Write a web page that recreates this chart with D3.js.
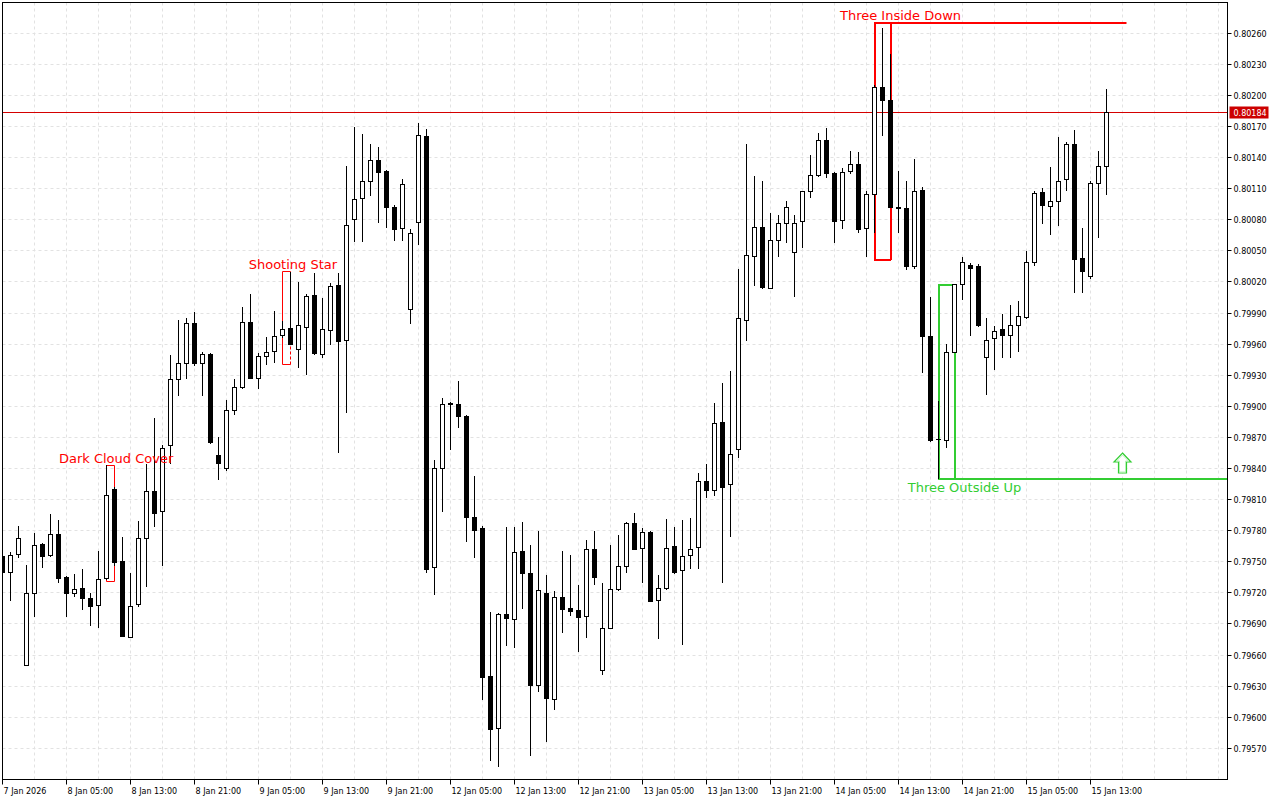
<!DOCTYPE html>
<html><head><meta charset="utf-8">
<script src="https://cdn.jsdelivr.net/npm/d3@7"></script>
<style>body{margin:0;background:#fff}svg{display:block}</style>
</head><body>
<script>
// ---------- DATA ----------
const timeLabels = ["7 Jan 2026","8 Jan 05:00","8 Jan 13:00","8 Jan 21:00","9 Jan 05:00","9 Jan 13:00","9 Jan 21:00","12 Jan 05:00","12 Jan 13:00","12 Jan 21:00","13 Jan 05:00","13 Jan 13:00","13 Jan 21:00","14 Jan 05:00","14 Jan 13:00","14 Jan 21:00","15 Jan 05:00","15 Jan 13:00"];
const priceTicks = [0.80260,0.80230,0.80200,0.80170,0.80140,0.80110,0.80080,0.80050,0.80020,0.79990,0.79960,0.79930,0.79900,0.79870,0.79840,0.79810,0.79780,0.79750,0.79720,0.79690,0.79660,0.79630,0.79600,0.79570];

const open = [0.79755,0.79740,0.79757,0.79650,0.79719,0.79767,0.79756,0.79776,0.79735,0.79719,
0.79724,0.79715,0.79708,0.79734,0.79820,0.79750,0.79677,0.79709,0.79772,0.79818,
0.79799,0.79862,0.79926,0.79941,0.79980,0.79941,0.79950,0.79853,0.79840,0.79896,
0.79918,0.79981,0.79927,0.79948,0.79953,0.79968,0.79975,0.79955,0.79976,0.80007,
0.79950,0.79973,0.80017,0.79964,0.80080,0.80101,0.80117,0.80137,0.80127,0.80092,
0.80072,0.79993,0.80077,0.80160,0.79744,0.79840,0.79902,0.79902,0.79890,0.79793,
0.79782,0.79639,0.79589,0.79699,0.79694,0.79760,0.79739,0.79631,0.79719,0.79617,
0.79716,0.79705,0.79703,0.79697,0.79762,0.79645,0.79686,0.79723,0.79745,0.79787,
0.79763,0.79778,0.79713,0.79724,0.79765,0.79742,0.79756,0.79764,0.79827,0.79819,
0.79884,0.79825,0.79858,0.79983,0.80045,0.80073,0.80014,0.80060,0.80076,0.80048,
0.80078,0.80107,0.80123,0.80157,0.80125,0.80079,0.80127,0.80133,0.80072,0.80104,
0.80208,0.80195,0.80092,0.80091,0.80035,0.80108,0.79967,0.79868,0.79867,0.79952,
0.80018,0.80036,0.80035,0.79947,0.79965,0.79974,0.79968,0.79978,0.79986,0.80039,
0.80106,0.80093,0.80098,0.80119,0.80153,0.80043,0.80025,0.80115,0.80131];
const high = [0.79759,0.79759,0.79785,0.79747,0.79778,0.79768,0.79796,0.79790,0.79736,0.79738,
0.79743,0.79720,0.79760,0.79843,0.79822,0.79774,0.79739,0.79789,0.79844,0.79889,
0.79863,0.79950,0.79983,0.79985,0.79991,0.79952,0.79951,0.79870,0.79906,0.79926,
0.79996,0.80008,0.79951,0.79967,0.79992,0.79982,0.80030,0.80020,0.80008,0.80029,
0.80005,0.80019,0.80029,0.80132,0.80170,0.80163,0.80153,0.80150,0.80128,0.80094,
0.80119,0.80071,0.80173,0.80168,0.79848,0.79908,0.79904,0.79924,0.79892,0.79833,
0.79785,0.79702,0.79701,0.79784,0.79784,0.79788,0.79766,0.79780,0.79737,0.79722,
0.79760,0.79757,0.79728,0.79771,0.79780,0.79730,0.79766,0.79776,0.79788,0.79797,
0.79783,0.79780,0.79737,0.79791,0.79784,0.79790,0.79792,0.79836,0.79844,0.79903,
0.79923,0.79934,0.80033,0.80153,0.80122,0.80117,0.80087,0.80085,0.80098,0.80085,
0.80108,0.80143,0.80164,0.80169,0.80126,0.80130,0.80146,0.80145,0.80108,0.80210,
0.80265,0.80240,0.80127,0.80117,0.80139,0.80112,0.80006,0.79905,0.79960,0.80018,
0.80044,0.80038,0.80037,0.79985,0.79978,0.79989,0.79998,0.80002,0.80050,0.80108,
0.80111,0.80131,0.80160,0.80155,0.80167,0.80072,0.80117,0.80146,0.80206];
const low = [0.79734,0.79712,0.79754,0.79649,0.79697,0.79744,0.79755,0.79730,0.79697,0.79716,
0.79703,0.79688,0.79686,0.79732,0.79746,0.79677,0.79676,0.79706,0.79726,0.79784,
0.79746,0.79844,0.79910,0.79926,0.79939,0.79910,0.79864,0.79829,0.79838,0.79892,
0.79917,0.79926,0.79917,0.79940,0.79942,0.79966,0.79960,0.79937,0.79930,0.79950,
0.79947,0.79959,0.79855,0.79894,0.80059,0.80059,0.80103,0.80077,0.80072,0.80060,
0.80060,0.79979,0.80056,0.79739,0.79718,0.79798,0.79858,0.79879,0.79769,0.79754,
0.79617,0.79558,0.79552,0.79669,0.79667,0.79704,0.79563,0.79624,0.79576,0.79607,
0.79681,0.79698,0.79663,0.79676,0.79728,0.79641,0.79685,0.79722,0.79739,0.79761,
0.79730,0.79711,0.79675,0.79723,0.79738,0.79670,0.79743,0.79743,0.79812,0.79813,
0.79730,0.79774,0.79850,0.79963,0.80016,0.80013,0.80013,0.80044,0.80058,0.80006,
0.80053,0.80101,0.80121,0.80120,0.80058,0.80071,0.80124,0.80067,0.80044,0.80067,
0.80161,0.80091,0.80067,0.80032,0.80033,0.79932,0.79866,0.79830,0.79860,0.79951,
0.80003,0.79968,0.79977,0.79911,0.79935,0.79947,0.79947,0.79952,0.79984,0.80035,
0.80076,0.80065,0.80074,0.80108,0.80009,0.80009,0.80023,0.80062,0.80104];
const close = [0.79740,0.79756,0.79772,0.79719,0.79766,0.79755,0.79776,0.79734,0.79719,0.79723,
0.79715,0.79707,0.79733,0.79814,0.79749,0.79678,0.79707,0.79772,0.79818,0.79797,
0.79859,0.79926,0.79941,0.79980,0.79941,0.79950,0.79865,0.79845,0.79896,0.79918,
0.79981,0.79927,0.79948,0.79952,0.79967,0.79974,0.79960,0.79978,0.80006,0.79951,
0.79974,0.80016,0.79963,0.80075,0.80100,0.80117,0.80137,0.80126,0.80092,0.80071,
0.80114,0.80067,0.80161,0.79743,0.79840,0.79902,0.79903,0.79890,0.79793,0.79780,
0.79638,0.79588,0.79699,0.79695,0.79759,0.79739,0.79631,0.79722,0.79618,0.79716,
0.79704,0.79702,0.79696,0.79762,0.79735,0.79686,0.79723,0.79745,0.79787,0.79762,
0.79778,0.79712,0.79724,0.79763,0.79740,0.79755,0.79762,0.79827,0.79819,0.79883,
0.79822,0.79854,0.79985,0.80046,0.80073,0.80015,0.80060,0.80076,0.80092,0.80076,
0.80107,0.80123,0.80157,0.80125,0.80078,0.80126,0.80133,0.80071,0.80104,0.80208,
0.80195,0.80092,0.80091,0.80035,0.80107,0.79967,0.79867,0.79868,0.79952,0.80018,
0.80039,0.80033,0.79978,0.79964,0.79972,0.79968,0.79978,0.79987,0.80039,0.80105,
0.80094,0.80098,0.80117,0.80153,0.80042,0.80030,0.80115,0.80131,0.80184];

const lastPrice = 0.80184;

const patternNames  = ["Dark Cloud Cover","Shooting Star","Three Inside Down","Three Outside Up"];
const patternStart  = [13, 35, 109, 117];
const patternEnd    = [14, 36, 111, 119];
const patternTop    = [0.79843, 0.80030, 0.80270, 0.80018];
const patternBottom = [0.79731, 0.79940, 0.80042, 0.79830];
const patternLabelAt= [14.2, 36.3, 112.25, 120.25];
const patternBull   = [false, false, false, true];
const extendTo = 140.5;   // bar index where "Three Inside Down" level ends
const arrowAt = 140;      // bar index of the up arrow

// ---------- DRAW ----------
const W = 1280, H = 800;
const plot = {l: 2.5, t: 2.5, r: 1227.5, b: 779.5};
const RED = "#ff0000", GREEN = "#32cd32";

const svg = d3.select("body").append("svg")
  .attr("width", W).attr("height", H)
  .style("font-family", "'DejaVu Sans', sans-serif");

const x = d3.scaleLinear().domain([0, 153]).range([2.5, 2.5 + 8 * 153]);
const y = d3.scaleLinear().domain([0.79570, 0.80260]).range([748.3, 33.3]);
const snap = v => Math.round(v - 0.5) + 0.5;

svg.append("defs").append("clipPath").attr("id", "clip")
  .append("rect").attr("x", plot.l).attr("y", plot.t)
  .attr("width", plot.r - plot.l).attr("height", plot.b - plot.t);

const g = svg.append("g").attr("clip-path", "url(#clip)");

// grid
g.append("g").selectAll("line").data(priceTicks).join("line")
  .attr("x1", plot.l).attr("x2", plot.r)
  .attr("y1", d => snap(y(d))).attr("y2", d => snap(y(d)))
  .attr("stroke", "#e2e2e2").attr("stroke-dasharray", "3,3");
g.append("g").selectAll("line").data(d3.range(4, 154, 4)).join("line")
  .attr("x1", d => x(d)).attr("x2", d => x(d))
  .attr("y1", plot.t).attr("y2", plot.b)
  .attr("stroke", "#e2e2e2").attr("stroke-dasharray", "3,3");

// current price line
g.append("line").attr("x1", plot.l).attr("x2", plot.r)
  .attr("y1", snap(y(lastPrice))).attr("y2", snap(y(lastPrice)))
  .attr("stroke", "#d40000").attr("stroke-width", 1);

// pattern boxes
patternNames.forEach((name, k) => {
  const col = patternBull[k] ? GREEN : RED;
  const wide = patternEnd[k] - patternStart[k] >= 2;
  const sw = wide ? 2 : 1;
  const off = wide ? 0.5 : 0;
  const x0 = x(patternStart[k]) + off, x1 = x(patternEnd[k]) + off;
  const yt = snap(y(patternTop[k])) + off, yb = snap(y(patternBottom[k])) + off;
  const bg = g.append("g").attr("stroke", col).attr("stroke-width", sw).attr("fill", "none");
  bg.append("path").attr("d", `M${x1},${yt}H${x0}V${yb}H${x1}`);
  bg.append("line").attr("x1", x1).attr("x2", x1).attr("y1", yt).attr("y2", yb)
    .attr("stroke-dasharray", k === 1 ? "3,2" : null);
  if (k === 2) {
    bg.append("line").attr("x1", x1).attr("x2", x(extendTo)).attr("y1", yt).attr("y2", yt);
  }
  if (k === 3) {
    bg.append("line").attr("x1", x1).attr("x2", plot.r).attr("y1", yb).attr("y2", yb);
  }
});

// candles
const idx = d3.range(open.length);
const cg = g.append("g");
cg.selectAll("line").data(idx).join("line")
  .attr("x1", i => x(i)).attr("x2", i => x(i))
  .attr("y1", i => Math.round(y(high[i]))).attr("y2", i => Math.round(y(low[i])))
  .attr("stroke", "#000").attr("stroke-width", 1);
cg.selectAll("rect").data(idx).join("rect")
  .attr("x", i => x(i) - 2)
  .attr("width", 4)
  .attr("y", i => snap(y(Math.max(open[i], close[i]))))
  .attr("height", i => Math.max(0.001, snap(y(Math.min(open[i], close[i]))) - snap(y(Math.max(open[i], close[i])))))
  .attr("fill", i => close[i] >= open[i] ? "#fff" : "#000")
  .attr("stroke", "#000").attr("stroke-width", 1);
// doji markers (zero-height bodies)
cg.selectAll("line.doji").data(idx.filter(i => Math.abs(snap(y(open[i])) - snap(y(close[i]))) < 1)).join("line")
  .attr("class", "doji")
  .attr("x1", i => x(i) - 2.5).attr("x2", i => x(i) + 2.5)
  .attr("y1", i => snap(y(open[i]))).attr("y2", i => snap(y(open[i])))
  .attr("stroke", "#000");

// pattern labels
patternNames.forEach((name, k) => {
  const col = patternBull[k] ? GREEN : RED;
  const yy = patternBull[k] ? y(patternBottom[k]) + 13.6 : y(patternTop[k]) - 2.5;
  g.append("text").attr("x", x(patternLabelAt[k])).attr("y", yy)
    .attr("text-anchor", "middle").attr("fill", col)
    .style("font-size", "13px").text(name);
});

// up arrow
{
  const ax = x(arrowAt), ay = snap(y(patternBottom[3]));
  const p = `M${ax},${ay-25.5} L${ax+8.5},${ay-16.5} L${ax+4},${ay-16.5} L${ax+4},${ay-5.5} L${ax-4},${ay-5.5} L${ax-4},${ay-16.5} L${ax-8.5},${ay-16.5} Z`;
  g.append("path").attr("d", p).attr("fill", "#fff").attr("stroke", GREEN).attr("stroke-width", 1.2);
  const pi = `M${ax},${ay-23.5} L${ax+6},${ay-17.5} L${ax+3},${ay-17.5} L${ax+3},${ay-6.5} L${ax-3},${ay-6.5} L${ax-3},${ay-17.5} L${ax-6},${ay-17.5} Z`;
  g.append("path").attr("d", pi).attr("fill", "none").attr("stroke", "#b8f0b8").attr("stroke-width", 1);
}

// frame
svg.append("rect").attr("x", plot.l).attr("y", plot.t)
  .attr("width", plot.r - plot.l).attr("height", plot.b - plot.t)
  .attr("fill", "none").attr("stroke", "#000");

// price axis
const pa = svg.append("g");
pa.selectAll("line").data(priceTicks).join("line")
  .attr("x1", plot.r).attr("x2", plot.r + 4)
  .attr("y1", d => snap(y(d))).attr("y2", d => snap(y(d)))
  .attr("stroke", "#000");
pa.selectAll("text").data(priceTicks).join("text")
  .attr("x", plot.r + 6).attr("y", d => snap(y(d)) + 3)
  .style("font-size", "8px").attr("fill", "#000")
  .text(d => d.toFixed(5));

// last price tag
const ly = snap(y(lastPrice));
svg.append("rect").attr("x", plot.r + 2).attr("y", ly - 6).attr("width", 39).attr("height", 12).attr("fill", "#cc0000");
svg.append("text").attr("x", plot.r + 6).attr("y", ly + 3).style("font-size", "8px").attr("fill", "#fff").text(lastPrice.toFixed(5));

// time axis
const ta = svg.append("g");
const tIdx = timeLabels.map((_, k) => k * 8);
ta.selectAll("line").data(tIdx).join("line")
  .attr("x1", i => x(i)).attr("x2", i => x(i))
  .attr("y1", plot.b).attr("y2", plot.b + 5).attr("stroke", "#000");
ta.selectAll("text").data(timeLabels).join("text")
  .attr("x", (d, k) => x(tIdx[k]) + 1).attr("y", plot.b + 14)
  .style("font-size", "8px").attr("fill", "#000")
  .text(d => d);
</script>
</body></html>
